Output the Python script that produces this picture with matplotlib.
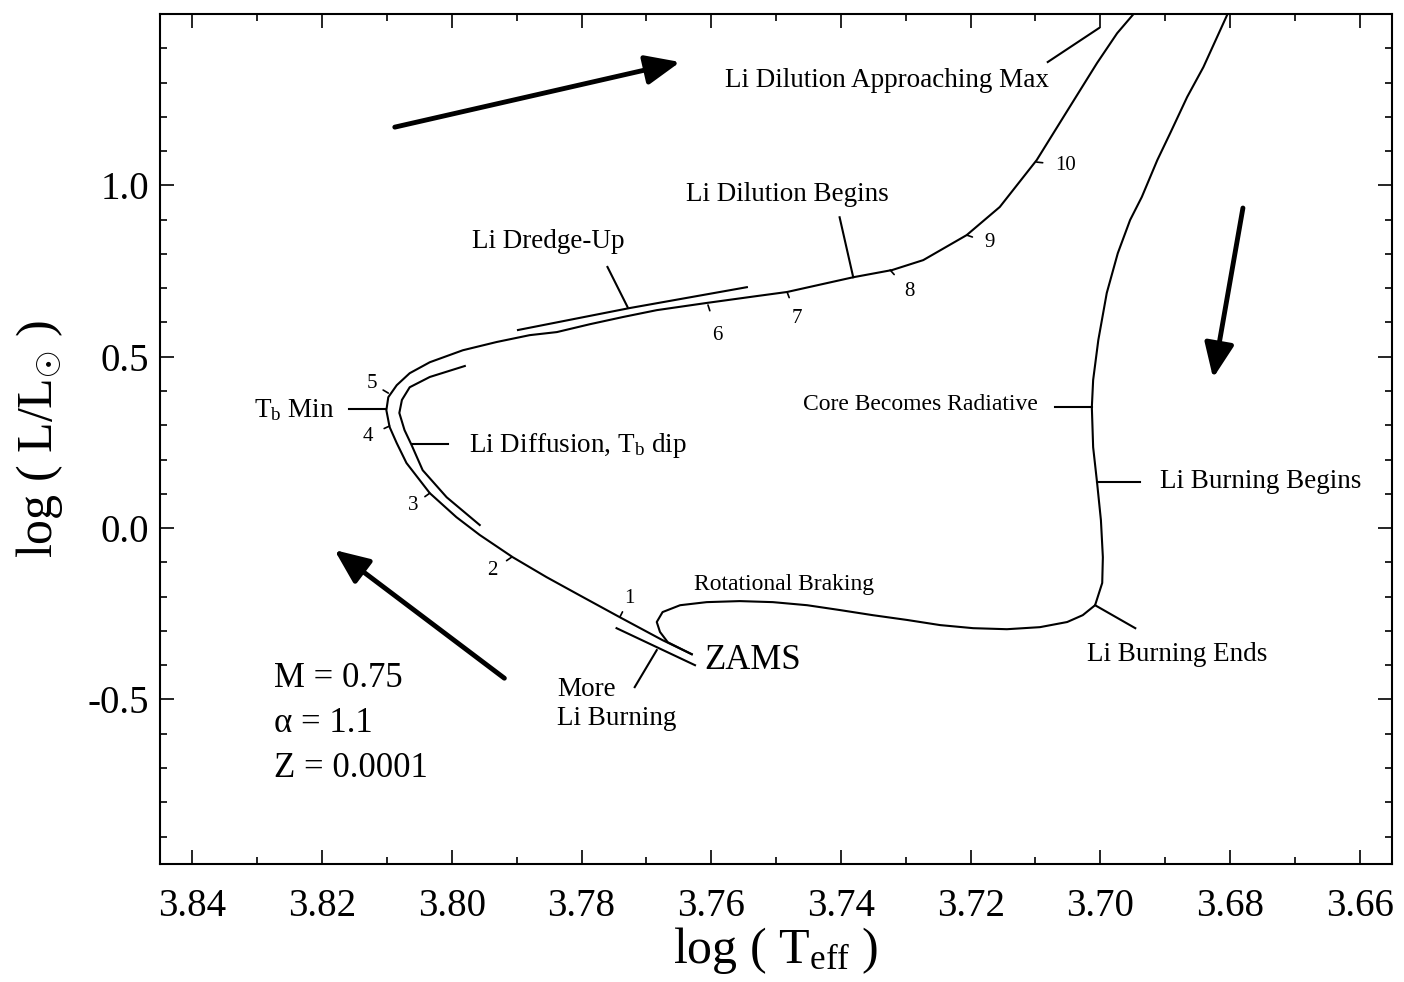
import numpy as np
import matplotlib
matplotlib.use('Agg')
import matplotlib.pyplot as plt
from matplotlib.ticker import MultipleLocator

plt.rcParams['font.family'] = ['Liberation Serif', 'DejaVu Serif']
plt.rcParams['mathtext.fontset'] = 'custom'
plt.rcParams['mathtext.rm'] = 'Liberation Serif'
plt.rcParams['mathtext.it'] = 'Liberation Serif:italic'

# Pre-main-sequence track: Hayashi descent, hook, down to the ZAMS
pms_logt = [3.6803, 3.6841, 3.6866, 3.6892, 3.6912, 3.6936, 3.6954, 3.6973, 3.6990,
            3.7003, 3.7011, 3.7013, 3.7011, 3.7005, 3.6999, 3.6996, 3.6997, 3.7008,
            3.7027, 3.7051, 3.7093, 3.7144, 3.7196, 3.7247, 3.7298, 3.7351, 3.7402,
            3.7452, 3.7505, 3.7556, 3.7607, 3.7648, 3.7675, 3.7684, 3.7679, 3.7667,
            3.7630]
pms_logl = [1.503, 1.345, 1.258, 1.153, 1.074, 0.966, 0.899, 0.802, 0.686,
            0.549, 0.432, 0.353, 0.236, 0.134, 0.023, -0.085, -0.160, -0.225,
            -0.254, -0.274, -0.289, -0.295, -0.292, -0.283, -0.268, -0.254, -0.239,
            -0.225, -0.216, -0.213, -0.216, -0.225, -0.245, -0.274, -0.303, -0.333,
            -0.368]

# Main sequence, turnoff and subgiant branch
ms_logt = [3.7630, 3.7675, 3.7741, 3.7803, 3.7854, 3.7906, 3.7957, 3.7993, 3.8034,
           3.8070, 3.8085, 3.8096, 3.8101, 3.8098, 3.8085, 3.8065, 3.8034, 3.7983,
           3.7931, 3.7880, 3.7838, 3.7787, 3.7736, 3.7684, 3.7607, 3.7530, 3.7483,
           3.7381, 3.7321, 3.7273, 3.7206, 3.7155, 3.7098, 3.7057, 3.7005, 3.6974,
           3.6946]
ms_logl = [-0.368, -0.327, -0.260, -0.196, -0.143, -0.085, -0.020, 0.032, 0.102,
           0.190, 0.248, 0.295, 0.344, 0.382, 0.417, 0.452, 0.484, 0.519,
           0.543, 0.563, 0.572, 0.595, 0.616, 0.636, 0.657, 0.677, 0.689,
           0.732, 0.753, 0.782, 0.855, 0.937, 1.074, 1.199, 1.357, 1.444,
           1.506]

# Parallel tracks marking the Li phases
diff_logt = [3.7980, 3.8034, 3.8065, 3.8077, 3.8081, 3.8073, 3.8062, 3.8045, 3.8008, 3.7957]
diff_logl = [0.473, 0.441, 0.411, 0.374, 0.336, 0.286, 0.242, 0.169, 0.090, 0.009]
dredge_logt = [3.7898, 3.7726, 3.7545]
dredge_logl = [0.578, 0.642, 0.703]
burn_logt = [3.7746, 3.7625]
burn_logl = [-0.292, -0.400]

# Numbered points along the track and their labels
num_labels = ['1', '2', '3', '4', '5', '6', '7', '8', '9', '10']
num_logt = [3.7741, 3.7908, 3.8034, 3.8096, 3.8098, 3.7605, 3.7483, 3.7324, 3.7206, 3.7098]
num_logl = [-0.260, -0.085, 0.102, 0.298, 0.394, 0.651, 0.689, 0.753, 0.855, 1.068]
lab_logt = [3.7726, 3.7937, 3.8060, 3.8130, 3.8124, 3.7590, 3.7468, 3.7294, 3.7170, 3.7054]
lab_logl = [-0.204, -0.123, 0.067, 0.268, 0.423, 0.563, 0.613, 0.689, 0.832, 1.059]

# Annotations: text, text position, leader line start/end
notes = [
    ('Li Dilution Approaching Max', 3.7329, 1.307, 'center', (3.7081, 1.360), (3.7002, 1.459)),
    ('Li Dilution Begins', 3.7482, 0.972, 'center', (3.7402, 0.907), (3.7381, 0.732)),
    ('Li Dredge-Up', 3.7852, 0.837, 'center', (3.7760, 0.762), (3.7729, 0.645)),
    (r'T$_{\rm b}$ Min', 3.8181, 0.344, 'right', (3.8158, 0.347), (3.8101, 0.347)),
    (r'Li Diffusion, T$_{\rm b}$ dip', 3.7973, 0.242, 'left', (3.8062, 0.245), (3.8006, 0.245)),
    ('More\nLi Burning', 3.7838, -0.513, 'left', (3.7684, -0.356), (3.7718, -0.464)),
    ('Li Burning Begins', 3.6908, 0.137, 'left', (3.7005, 0.134), (3.6939, 0.134)),
    ('Li Burning Ends', 3.7020, -0.368, 'left', (3.7008, -0.225), (3.6946, -0.292)),
]
small_notes = [
    ('Core Becomes Radiative', 3.7096, 0.362, 'right', (3.7070, 0.353), (3.7013, 0.353)),
    ('Rotational Braking', 3.7488, -0.166, 'center', None, None),
]

# Direction arrows: start and end
arrow_start = [(3.8088, 1.170), (3.6780, 0.934), (3.7919, -0.438)]
arrow_end = [(3.7648, 1.360), (3.6826, 0.438), (3.8181, -0.064)]

params = ['M = 0.75', 'α = 1.1', 'Z = 0.0001']
params_logl = [-0.438, -0.569, -0.700]

fig = plt.figure(figsize=(14.04, 9.82), dpi=100)
ax = fig.add_axes([0.114, 0.1202, 0.8775, 0.8655])
ax.set_xlim(3.845, 3.655)
ax.set_ylim(-0.98, 1.5)

lw = 1.5
ax.plot(pms_logt, pms_logl, color='black', lw=lw)
ax.plot(ms_logt, ms_logl, color='black', lw=lw)
ax.plot(diff_logt, diff_logl, color='black', lw=lw)
ax.plot(dredge_logt, dredge_logl, color='black', lw=lw)
ax.plot(burn_logt, burn_logl, color='black', lw=lw)

# small ticks pointing toward each number
for lab, x, y, lx, ly in zip(num_labels, num_logt, num_logl, lab_logt, lab_logl):
    p0 = ax.transData.transform((x, y))
    p1 = ax.transData.transform((lx, ly))
    d = (p1 - p0) / np.hypot(*(p1 - p0)) * 6
    ax.annotate('', xy=(x, y), xytext=(d[0], d[1]), textcoords='offset pixels',
                arrowprops=dict(arrowstyle='-', lw=1.2, color='black',
                                shrinkA=0, shrinkB=0))
    ax.text(lx, ly, lab, fontsize=15, ha='center', va='center')

for txt, tx, ty, ha, p0, p1 in notes:
    ax.text(tx, ty, txt, fontsize=19.5, ha=ha, va='center', linespacing=1.2)
    ax.plot([p0[0], p1[0]], [p0[1], p1[1]], color='black', lw=1.5)
for txt, tx, ty, ha, p0, p1 in small_notes:
    ax.text(tx, ty, txt, fontsize=17, ha=ha, va='center')
    if p0 is not None:
        ax.plot([p0[0], p1[0]], [p0[1], p1[1]], color='black', lw=1.5)

ax.text(3.7610, -0.385, 'ZAMS', fontsize=25, ha='left', va='center')

for s, y in zip(params, params_logl):
    ax.text(3.8275, y, s, fontsize=25, ha='left', va='center')

for s, e in zip(arrow_start, arrow_end):
    ax.annotate('', xy=e, xytext=s,
                arrowprops=dict(arrowstyle='-|>,head_length=0.7,head_width=0.3',
                                lw=3.5, color='black', mutation_scale=30,
                                shrinkA=0, shrinkB=0))

ax.xaxis.set_minor_locator(MultipleLocator(0.01))
ax.yaxis.set_minor_locator(MultipleLocator(0.1))
xt = np.arange(3.84, 3.655, -0.02)
ax.set_xticks(xt)
ax.set_xticklabels(['%.2f' % v for v in xt])
ax.set_yticks([-0.5, 0.0, 0.5, 1.0])
ax.set_yticklabels(['-0.5', '0.0', '0.5', '1.0'])
ax.tick_params(which='both', direction='in', top=True, right=True, labelsize=28, width=1.2)
ax.tick_params(which='major', length=10)
ax.tick_params(which='minor', length=5)
ax.tick_params(axis='x', which='major', pad=17)
ax.tick_params(axis='y', which='major', pad=8)
for sp in ax.spines.values():
    sp.set_linewidth(1.5)

ax.set_xlabel(r'log ( T$_{\rm eff}$ )', fontsize=36, labelpad=0)
ax.set_ylabel(r'log ( L/L$_{\odot}$ )', fontsize=36, labelpad=16)

fig.savefig('out.png', dpi=100)
